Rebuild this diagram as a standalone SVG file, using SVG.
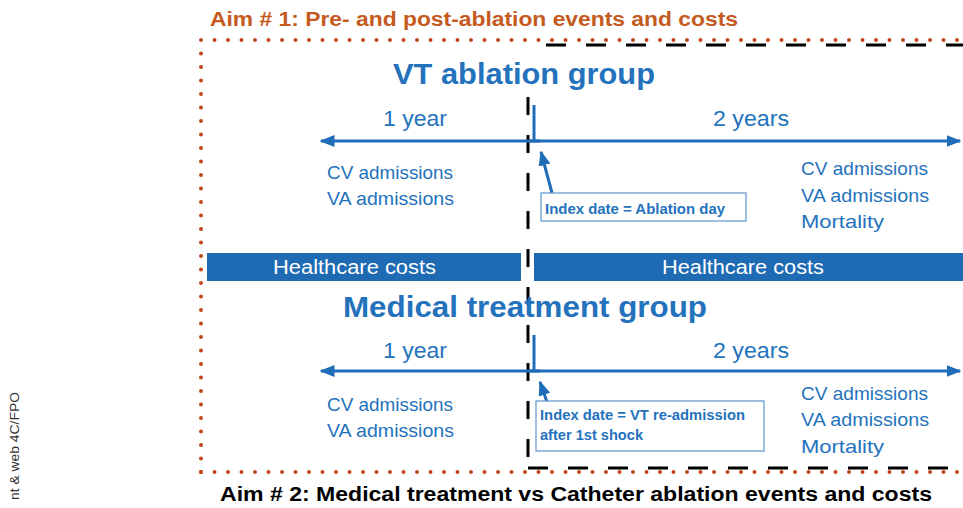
<svg xmlns="http://www.w3.org/2000/svg" width="963" height="508" viewBox="0 0 963 508">
<style>
text{font-family:"Liberation Sans",Arial,sans-serif;}
.lbl{font-size:19px;fill:#2472BC;}
.yr{font-size:22px;fill:#2472BC;}
.grp{font-size:30px;font-weight:bold;fill:#2472BC;}
.cost{font-size:20px;fill:#FFFFFF;}
.idx{font-size:14px;font-weight:bold;fill:#2472BC;}
.tl{stroke:#1F6DB6;stroke-width:3;fill:none;}
.dots{stroke:#C4461E;stroke-width:4;stroke-linecap:round;stroke-dasharray:0 13.5;fill:none;}
.dash{stroke:#000;stroke-width:3;stroke-dasharray:20 20;fill:none;}
.bar{fill:#1E6BB4;}
.box{fill:#fff;stroke:#5B95CF;stroke-width:1.2;}
</style>
<defs>
<marker id="ah" markerWidth="5" markerHeight="4" refX="4.5" refY="2" orient="auto" markerUnits="strokeWidth">
<path d="M0,0 L5,2 L0,4 Z" fill="#1F6DB6"/>
</marker>
</defs>
<rect width="963" height="508" fill="#fff"/>
<g id="aim1-title"><text x="210" y="26" font-size="20" font-weight="bold" fill="#C55A1E" textLength="528" lengthAdjust="spacingAndGlyphs">Aim # 1: Pre- and post-ablation events and costs</text></g>
<g id="frames">
<path class="dots" d="M201,472 L201,40 L963,40"/>
<path class="dots" d="M201,472 L963,472"/>
<path class="dash" d="M546,45 L963,45"/>
<path class="dash" d="M528,468 L963,468"/>
<path class="dash" d="M528,97 L528,468" style="stroke-dasharray:18 20"/>
</g>
<g id="vt-group-title"><text class="grp" x="393" y="84" textLength="262" lengthAdjust="spacingAndGlyphs">VT ablation group</text></g>
<g id="connectors">
<line class="tl" x1="540" y1="141" x2="321" y2="141" marker-end="url(#ah)"/>
<line class="tl" x1="530" y1="141" x2="960" y2="141" marker-end="url(#ah)"/>
<line class="tl" x1="534" y1="105" x2="534" y2="141"/>
<line class="tl" x1="552" y1="193" x2="541" y2="152" marker-end="url(#ah)"/>
<line class="tl" x1="540" y1="371" x2="321" y2="371" marker-end="url(#ah)"/>
<line class="tl" x1="530" y1="371" x2="960" y2="371" marker-end="url(#ah)"/>
<line class="tl" x1="534" y1="335" x2="534" y2="371"/>
<line class="tl" x1="547" y1="402" x2="540" y2="382" marker-end="url(#ah)"/>
</g>
<g id="vt-pre">
<text class="yr" x="383" y="126" textLength="64" lengthAdjust="spacingAndGlyphs">1 year</text>
<text class="lbl" x="327" y="179" textLength="126" lengthAdjust="spacingAndGlyphs">CV admissions</text>
<text class="lbl" x="327" y="205" textLength="127" lengthAdjust="spacingAndGlyphs">VA admissions</text>
</g>
<g id="vt-post">
<text class="yr" x="713" y="126" textLength="76" lengthAdjust="spacingAndGlyphs">2 years</text>
<text class="lbl" x="801" y="175" textLength="127" lengthAdjust="spacingAndGlyphs">CV admissions</text>
<text class="lbl" x="801" y="202" textLength="128" lengthAdjust="spacingAndGlyphs">VA admissions</text>
<text class="lbl" x="801" y="228" textLength="83" lengthAdjust="spacingAndGlyphs">Mortality</text>
</g>
<g id="index-ablation">
<rect class="box" x="541" y="193" width="205" height="28"/>
<text class="idx" x="545" y="214" textLength="180" lengthAdjust="spacingAndGlyphs">Index date = Ablation day</text>
</g>
<g id="costs-pre">
<rect class="bar" x="207" y="253" width="314" height="28"/>
<text class="cost" x="273" y="274" textLength="163" lengthAdjust="spacingAndGlyphs">Healthcare costs</text>
</g>
<g id="costs-post">
<rect class="bar" x="534" y="253" width="429" height="28"/>
<text class="cost" x="662" y="274" textLength="162" lengthAdjust="spacingAndGlyphs">Healthcare costs</text>
</g>
<g id="med-group-title"><text class="grp" x="343" y="317" textLength="364" lengthAdjust="spacingAndGlyphs">Medical treatment group</text></g>
<g id="med-pre">
<text class="yr" x="383" y="358" textLength="64" lengthAdjust="spacingAndGlyphs">1 year</text>
<text class="lbl" x="327" y="411" textLength="126" lengthAdjust="spacingAndGlyphs">CV admissions</text>
<text class="lbl" x="327" y="437" textLength="127" lengthAdjust="spacingAndGlyphs">VA admissions</text>
</g>
<g id="med-post">
<text class="yr" x="713" y="358" textLength="76" lengthAdjust="spacingAndGlyphs">2 years</text>
<text class="lbl" x="801" y="400" textLength="127" lengthAdjust="spacingAndGlyphs">CV admissions</text>
<text class="lbl" x="801" y="426" textLength="128" lengthAdjust="spacingAndGlyphs">VA admissions</text>
<text class="lbl" x="801" y="453" textLength="83" lengthAdjust="spacingAndGlyphs">Mortality</text>
</g>
<g id="index-readmission">
<rect class="box" x="536" y="401" width="228" height="50"/>
<text class="idx" x="540" y="420" textLength="205" lengthAdjust="spacingAndGlyphs">Index date = VT re-admission</text>
<text class="idx" x="540" y="440" textLength="103" lengthAdjust="spacingAndGlyphs">after 1st shock</text>
</g>
<g id="aim2-title"><text x="220" y="501" font-size="20" font-weight="bold" fill="#000" textLength="712" lengthAdjust="spacingAndGlyphs">Aim # 2: Medical treatment vs Catheter ablation events and costs</text></g>
<g id="side-note"><text x="19" y="500" font-size="13" fill="#333" transform="rotate(-90 19 500)" textLength="108" lengthAdjust="spacingAndGlyphs">nt &amp; web 4C/FPO</text></g>
</svg>
